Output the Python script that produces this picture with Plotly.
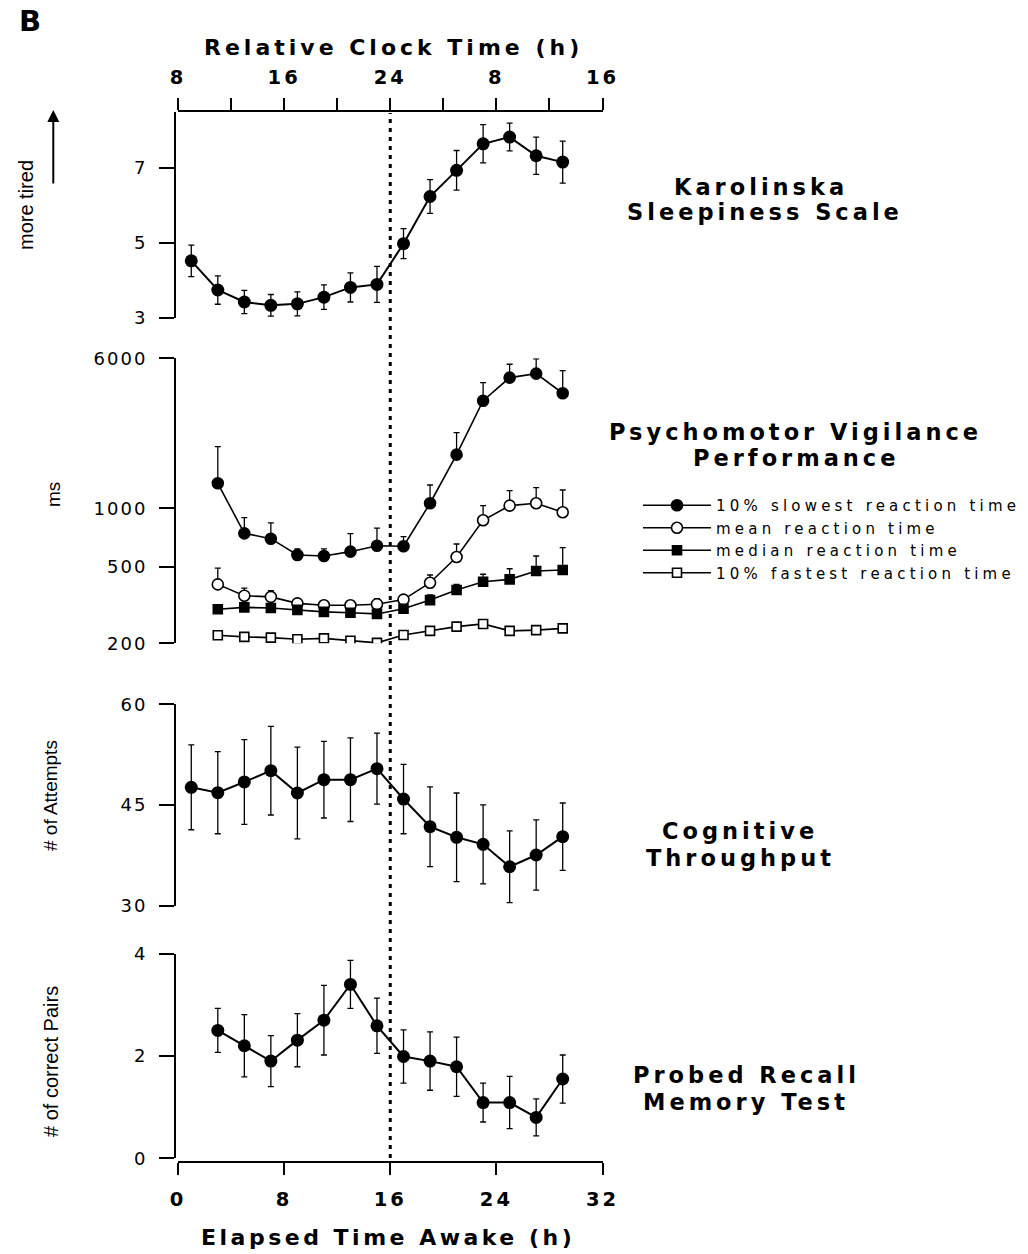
import plotly.graph_objects as go

W, H = 1028, 1254

# ---------------- data ----------------
hours_all = [1, 3, 5, 7, 9, 11, 13, 15, 17, 19, 21, 23, 25, 27, 29]
hours_pvt = [3, 5, 7, 9, 11, 13, 15, 17, 19, 21, 23, 25, 27, 29]

kss = [4.52, 3.74, 3.42, 3.33, 3.37, 3.55, 3.81, 3.89, 4.98, 6.24, 6.94, 7.65, 7.83, 7.33, 7.16]
kss_err = [0.42, 0.38, 0.31, 0.29, 0.32, 0.33, 0.39, 0.48, 0.40, 0.45, 0.53, 0.51, 0.37, 0.50, 0.56]

pvt_slow = [1350, 743, 697, 574, 567, 597, 641, 637, 1064, 1900, 3618, 4764, 4996, 3954]
pvt_slow_err = [740, 153, 144, 43, 50, 143, 149, 77, 259, 572, 870, 826, 959, 1224]
pvt_mean = [404, 353, 348, 322, 315, 315, 319, 337, 412, 560, 868, 1034, 1064, 955]
pvt_mean_err = [87, 33, 27, 10, 10, 8, 22, 12, 40, 94, 166, 202, 218, 291]
pvt_median = [300, 307, 305, 298, 291, 288, 284, 302, 335, 378, 417, 429, 474, 480]
pvt_median_err = [16, 15, 5, 5, 5, 5, 5, 10, 21, 26, 39, 58, 93, 146]
pvt_fast = [220, 216, 214, 210, 212, 206, 201, 221, 232, 244, 252, 232, 234, 239]

attempts = [47.64, 46.83, 48.43, 50.11, 46.79, 48.77, 48.77, 50.41, 45.89, 41.77, 40.19, 39.14, 35.80, 37.55, 40.28]
attempts_err = [6.33, 6.11, 6.31, 6.60, 6.83, 5.71, 6.23, 5.29, 5.17, 5.94, 6.60, 5.89, 5.34, 5.24, 5.02]

recall = [2.50, 2.20, 1.90, 2.31, 2.70, 3.40, 2.59, 1.99, 1.90, 1.79, 1.09, 1.09, 0.80, 1.55]
recall_err = [0.43, 0.61, 0.50, 0.52, 0.68, 0.47, 0.54, 0.52, 0.57, 0.58, 0.38, 0.51, 0.36, 0.47]

elapsed_ticks = [0, 8, 16, 24, 32]
clock_tickvals = [0, 4, 8, 12, 16, 20, 24, 28, 32]
clock_ticktext = ["8", "", "16", "", "24", "", "8", "", "16"]

legend_names = ["10% slowest reaction time", "mean reaction time",
                "median reaction time", "10% fastest reaction time"]

# ---------------- helpers ----------------
BOLD = "DejaVu Sans"
REG = "DejaVu Sans"
ARIAL = "Liberation Sans"


def sp(t, ls):
    return f'<span style="letter-spacing:{ls}px">{t}</span>'


def px_x(p):
    return p / W


def px_y(p):
    return 1 - p / H


X0, X1 = px_x(178), px_x(602.5)
YAX = px_x(175)

fig = go.Figure()

err_style = dict(color="black", thickness=1.3, width=3)

# panel 1 - KSS
fig.add_trace(go.Scatter(
    x=hours_all, y=kss, xaxis="x", yaxis="y", mode="lines+markers",
    line=dict(color="black", width=2),
    marker=dict(symbol="circle", size=13, color="black"),
    error_y=dict(type="data", array=kss_err, visible=True, **err_style),
    showlegend=False))

# panel 2 - PVT
pvt_specs = [
    (pvt_slow, pvt_slow_err, "circle", "black", 11),
    (pvt_mean, pvt_mean_err, "circle", "white", 11),
    (pvt_median, pvt_median_err, "square", "black", 9),
    (pvt_fast, None, "square", "white", 9),
]
for (vals, err, sym, fill, msize), name in zip(pvt_specs, legend_names):
    tr = dict(
        x=hours_pvt, y=vals, xaxis="x2", yaxis="y2", mode="lines+markers",
        line=dict(color="black", width=1.6),
        marker=dict(symbol=sym, size=msize, color=fill,
                    line=dict(color="black", width=1.6)),
        name=sp(name, 4.2), showlegend=True)
    if err is not None:
        tr["error_y"] = dict(type="data", symmetric=False, array=err,
                             arrayminus=[0] * len(err), visible=True, **err_style)
    fig.add_trace(go.Scatter(**tr))

# panel 3 - cognitive throughput
fig.add_trace(go.Scatter(
    x=hours_all, y=attempts, xaxis="x3", yaxis="y3", mode="lines+markers",
    line=dict(color="black", width=2),
    marker=dict(symbol="circle", size=13, color="black"),
    error_y=dict(type="data", array=attempts_err, visible=True, **err_style),
    showlegend=False))

# panel 4 - probed recall
fig.add_trace(go.Scatter(
    x=hours_pvt, y=recall, xaxis="x4", yaxis="y4", mode="lines+markers",
    line=dict(color="black", width=2),
    marker=dict(symbol="circle", size=13, color="black"),
    error_y=dict(type="data", array=recall_err, visible=True, **err_style),
    showlegend=False))

# ---------------- axes ----------------
line_kw = dict(showline=True, linecolor="black", linewidth=2, showgrid=False,
               zeroline=False, ticks="outside", tickcolor="black", tickwidth=2,
               automargin=False)
ytickfont = dict(family=REG, size=18, color="black")
xtickfont = dict(family=BOLD, size=19.5, color="black", weight="bold")


def ytick(vals):
    return dict(tickmode="array", tickvals=vals, ticktext=[sp(str(v), 2) for v in vals])


layout = dict(
    width=W, height=H, autosize=False,
    margin=dict(l=0, r=0, t=0, b=0, pad=0, autoexpand=False),
    paper_bgcolor="white", plot_bgcolor="white",
    xaxis=dict(domain=[X0, X1], range=[0, 32], anchor="y", side="top",
               tickmode="array", tickvals=clock_tickvals,
               ticktext=[sp(t, 3) for t in clock_ticktext],
               ticklen=12, tickfont=xtickfont, ticklabelstandoff=6, **line_kw),
    xaxis2=dict(domain=[X0, X1], range=[0, 32], anchor="y2", visible=False),
    xaxis3=dict(domain=[X0, X1], range=[0, 32], anchor="y3", visible=False),
    xaxis4=dict(domain=[X0, X1], range=[0, 32], anchor="free", position=px_y(1161.5),
                tickmode="array", tickvals=elapsed_ticks,
                ticktext=[sp(str(t), 3) for t in elapsed_ticks],
                ticklen=12, tickfont=xtickfont, ticklabelstandoff=8, **line_kw),
    yaxis=dict(domain=[px_y(317.7), px_y(112)], range=[3, 8.5], anchor="free",
               position=YAX, ticklen=15, tickfont=ytickfont, ticklabelstandoff=8,
               **ytick([3, 5, 7]), **line_kw),
    yaxis2=dict(domain=[px_y(643.3), px_y(358.3)], type="log",
                range=[2.30103, 3.778151], anchor="free", position=YAX,
                ticklen=15, tickfont=ytickfont, ticklabelstandoff=8,
                **ytick([200, 500, 1000, 6000]), **line_kw),
    yaxis3=dict(domain=[px_y(905.7), px_y(704.3)], range=[30, 60], anchor="free",
                position=YAX, ticklen=15, tickfont=ytickfont, ticklabelstandoff=8,
                **ytick([30, 45, 60]), **line_kw),
    yaxis4=dict(domain=[px_y(1158.3), px_y(953.7)], range=[0, 4], anchor="free",
                position=YAX, ticklen=15, tickfont=ytickfont, ticklabelstandoff=8,
                **ytick([0, 2, 4]), **line_kw),
    legend=dict(x=px_x(638), y=px_y(489), xanchor="left", yanchor="top",
                font=dict(family=REG, size=15, color="black"),
                bgcolor="rgba(0,0,0,0)", itemwidth=68, tracegroupgap=0),
    showlegend=True,
)
fig.update_layout(**layout)

# dotted line at 16 h awake
fig.add_shape(type="line", xref="x", yref="paper", x0=16, x1=16,
              y0=px_y(1158), y1=px_y(113),
              line=dict(color="black", width=3, dash="4px,5px"))


def bold_text(text, cx, cy, size=22.5, ls=4):
    fig.add_annotation(text=sp(text, ls), x=px_x(cx), y=px_y(cy), xref="paper", yref="paper",
                       xanchor="center", yanchor="middle", showarrow=False,
                       font=dict(family=BOLD, size=size, color="black", weight="bold"))


def rot_text(text, cx, cy, size=19):
    fig.add_annotation(text=text, x=px_x(cx), y=px_y(cy), xref="paper", yref="paper",
                       xanchor="center", yanchor="middle", showarrow=False, textangle=-90,
                       font=dict(family=ARIAL, size=size, color="black"))


bold_text("B", 30, 21, size=29, ls=0)
bold_text("Relative Clock Time (h)", 393, 48, size=22, ls=4)
bold_text("Elapsed Time Awake (h)", 388, 1237, size=22, ls=3.5)

bold_text("Karolinska", 761, 187)
bold_text("Sleepiness Scale", 765, 212)
bold_text("Psychomotor Vigilance", 795, 432)
bold_text("Performance", 796, 458)
bold_text("Cognitive", 740, 831)
bold_text("Throughput", 740, 858)
bold_text("Probed Recall", 746, 1075)
bold_text("Memory Test", 746, 1102)

rot_text("more tired", 26, 205, size=20)
rot_text("ms", 53, 495, size=19)
rot_text("# of Attempts", 51, 796, size=19)
rot_text("# of correct Pairs", 51, 1062, size=20)

# "more tired" arrow
fig.add_annotation(x=px_x(53.3), y=px_y(110), xref="paper", yref="paper",
                   ax=0, ay=75, axref="pixel", ayref="pixel", text="",
                   showarrow=True, arrowhead=2, arrowsize=1.2, arrowwidth=2,
                   arrowcolor="black")

fig.write_html("out.html")
